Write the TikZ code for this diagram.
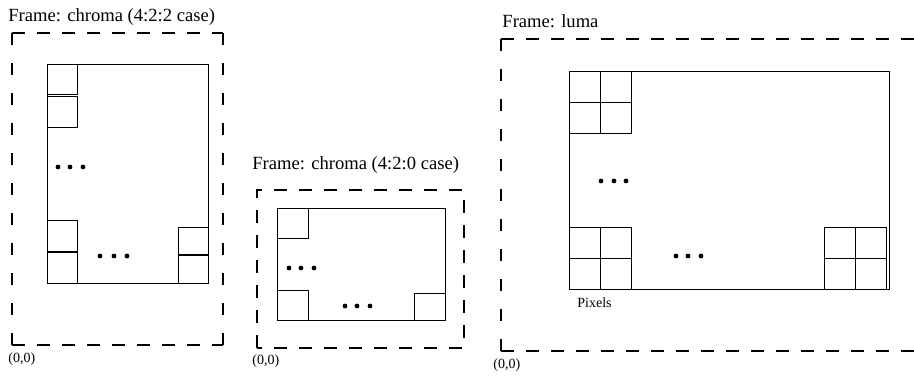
\documentclass[tikz,border=0pt]{standalone}
\usepackage{fontspec}
\setmainfont{Liberation Serif}
\usetikzlibrary{calc}

\tikzset{
  frame/.style={line width=1pt, dash pattern=on 6.5pt off 6pt},
  vframe/.style={line width=1pt, dash pattern=on 6pt off 9pt},
  plane/.style={line width=0.5pt},
  title/.style={anchor=base west, inner sep=0pt, font=\fontsize{9.3}{11}\selectfont},
  small/.style={anchor=base west, inner sep=0pt, font=\fontsize{7}{8}\selectfont}
}

\begin{document}
\begin{tikzpicture}[x=0.5pt,y=-0.5pt]
      \useasboundingbox (0,0) rectangle (914,375);
      % chroma, 4:2:2
      \node[title] (t422) at (8,21) {Frame: chroma (4:2:2 case)};
      \draw[frame] (12,345) -- (223,345);
      \draw[frame] (12,33) -- (223,33);
      \draw[vframe] (12,345) -- (12,33);
      \draw[vframe] (223,345) -- (223,33);
      \draw[plane] (47,64) rectangle (208,283);
      \draw[plane] (47,64) rectangle (77,94);
      \draw[plane] (47,96) rectangle (77,127);
      \draw[plane] (47,220) rectangle (77,251);
      \draw[plane] (47,252) rectangle (77,283);
      \draw[plane] (178,227) rectangle (208,254);
      \draw[plane] (178,255) rectangle (208,283);
      \foreach \x in {58,70,83} \fill (\x,167) circle (1.2pt);
      \foreach \x in {100,114,127} \fill (\x,256) circle (1.2pt);
      \node[small] (o422) at (8,362) {(0,0)};
      % chroma, 4:2:0
      \node[title] (t420) at (252,169) {Frame: chroma (4:2:0 case)};
      \draw[frame] (257,348) rectangle (464,190);
      \draw[plane] (277,208) rectangle (445,320);
      \draw[plane] (277,208) rectangle (308,238);
      \draw[plane] (277,290) rectangle (308,320);
      \draw[plane] (414,293) rectangle (445,320);
      \foreach \x in {289,301,314} \fill (\x,268) circle (1.2pt);
      \foreach \x in {345,357,370} \fill (\x,306) circle (1.2pt);
      \node[small] (o420) at (252,364) {(0,0)};
      % luma
      \node[title] (tluma) at (502,27) {Frame: luma};
      \draw[vframe] (501,351) -- (501,39);
      \draw[frame] (501,39) -- (914,39);
      \draw[frame] (501,351) -- (914,351);
      \draw[plane] (569,71) rectangle (889,289);
      \foreach \cx/\cy in {569/71,569/227,824/227}
        \foreach \i in {0,1}
          \foreach \j in {0,1}
            \draw[plane] ($(\cx,\cy)+(31*\i,31*\j)$) rectangle ++(31,31);
      \foreach \x in {601,614,626} \fill (\x,181) circle (1.2pt);
      \foreach \x in {676,688,701} \fill (\x,256) circle (1.2pt);
      \node[small] (pix) at (577,307) {Pixels};
      \node[small] (oluma) at (493,368) {(0,0)};
    \end{tikzpicture}
\end{document}
